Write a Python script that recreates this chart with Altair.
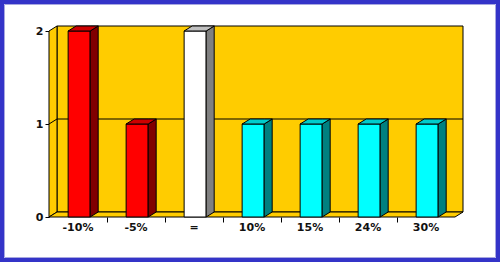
import altair as alt
import pandas as pd

# ---- data ----
categories = ["-10%", "-5%", "=", "10%", "15%", "24%", "30%"]
values = [2, 1, 2, 1, 1, 1, 1]
front_colors = ["#FF0000", "#FF0000", "#FFFFFF", "#00FFFF", "#00FFFF", "#00FFFF", "#00FFFF"]
top_colors = ["#CC0000", "#CC0000", "#C0C0C0", "#00CCCC", "#00CCCC", "#00CCCC", "#00CCCC"]
side_colors = ["#800000", "#800000", "#808080", "#008080", "#008080", "#008080", "#008080"]
y_ticks = [0, 1, 2]

# ---- layout / style ----
W, H = 406, 186
N = len(categories)
YMAX = 2
DEPTH_PX_X, DEPTH_PX_Y = 8, 5
DX = DEPTH_PX_X / (W / N)      # depth in x-data units
DY = DEPTH_PX_Y / (H / YMAX)   # depth in y-data units
BAR_START, BAR_END = 0.33, 0.71
GOLD = "#FFCC00"
FONT = "DejaVu Sans"

xs = alt.Scale(domain=[0, N], nice=False, zero=False)
ys = alt.Scale(domain=[0, YMAX], nice=False, zero=False)
x_axis = alt.Axis(values=list(range(1, N)), labels=False, domain=False, grid=False,
                  tickSize=5, tickColor="black", title=None)
y_axis = alt.Axis(values=y_ticks, labelExpr="format(datum.value, '.0f')", labelOverlap=False,
                  domain=False, grid=False, tickSize=4,
                  tickColor="black", labelPadding=2, labelFont=FONT, labelFontSize=11,
                  labelFontWeight="bold", labelColor="#111111", title=None)


def X(field="x"):
    return alt.X(f"{field}:Q", scale=xs, axis=x_axis)


def Y(field="y"):
    return alt.Y(f"{field}:Q", scale=ys, axis=y_axis)


# back wall
back = pd.DataFrame([{"x": DX, "x2": N + DX, "y": DY, "y2": YMAX + DY}])
back_layer = alt.Chart(back).mark_rect(fill=GOLD, stroke="black", strokeWidth=1).encode(
    x=X(), x2="x2:Q", y=Y(), y2="y2:Q")

# left wall
left = pd.DataFrame([{"x": 0, "y": YMAX, "y2": 0}, {"x": DX, "y": YMAX + DY, "y2": DY}])
left_layer = alt.Chart(left).mark_area(fill=GOLD, stroke="black", strokeWidth=1,
                                       interpolate="linear").encode(
    x=X(), y=Y(), y2="y2:Q")

# floor
floor = pd.DataFrame([
    {"x": 0, "y": 0, "y2": 0},
    {"x": DX, "y": DY, "y2": 0},
    {"x": N, "y": DY, "y2": 0},
    {"x": N + DX, "y": DY, "y2": DY},
])
floor_layer = alt.Chart(floor).mark_area(fill=GOLD, stroke="black", strokeWidth=1,
                                         interpolate="linear").encode(
    x=X(), y=Y(), y2="y2:Q")

# gridline at 1 (side wall + back wall)
grid_rows = []
for g in y_ticks[1:-1]:
    grid_rows += [{"x": 0, "y": g, "g": g}, {"x": DX, "y": g + DY, "g": g},
                  {"x": N + DX, "y": g + DY, "g": g}]
grid_layer = alt.Chart(pd.DataFrame(grid_rows)).mark_line(color="black", strokeWidth=1).encode(
    x=X(), y=Y(), detail="g:N")

# bars
front_rows, side_rows, top_rows = [], [], []
for i, (c, v) in enumerate(zip(categories, values)):
    x0, x1 = i + BAR_START, i + BAR_END
    front_rows.append({"cat": c, "x": x0, "x2": x1, "y": v, "y2": 0, "col": front_colors[i]})
    side_rows += [
        {"cat": c, "x": x1, "y": v, "y2": 0, "col": side_colors[i]},
        {"cat": c, "x": x1 + DX, "y": v + DY, "y2": DY, "col": side_colors[i]},
    ]
    top_rows += [
        {"cat": c, "x": x0, "y": v, "y2": v, "col": top_colors[i]},
        {"cat": c, "x": x0 + DX, "y": v + DY, "y2": v, "col": top_colors[i]},
        {"cat": c, "x": x1, "y": v + DY, "y2": v, "col": top_colors[i]},
        {"cat": c, "x": x1 + DX, "y": v + DY, "y2": v + DY, "col": top_colors[i]},
    ]

front_layer = alt.Chart(pd.DataFrame(front_rows)).mark_rect(stroke="black", strokeWidth=1).encode(
    x=X(), x2="x2:Q", y=Y(), y2="y2:Q", fill=alt.Fill("col:N", scale=None))
side_layer = alt.Chart(pd.DataFrame(side_rows)).mark_area(
    stroke="black", strokeWidth=1, interpolate="linear").encode(
    x=X(), y=Y(), y2="y2:Q", fill=alt.Fill("col:N", scale=None), detail="cat:N")
top_layer = alt.Chart(pd.DataFrame(top_rows)).mark_area(
    stroke="black", strokeWidth=1, interpolate="linear").encode(
    x=X(), y=Y(), y2="y2:Q", fill=alt.Fill("col:N", scale=None), detail="cat:N")

# category labels
labels = pd.DataFrame({"cat": categories, "x": [i + 0.5 for i in range(N)], "y": [0] * N})
label_layer = alt.Chart(labels).mark_text(
    font=FONT, fontSize=11, fontWeight="bold", color="#111111", baseline="middle",
    align="center", dy=11).encode(x=X(), y=Y(), text="cat:N")

# decorative frame
frame = alt.Chart(pd.DataFrame({"a": [0]})).mark_rect(
    fill=None, stroke="#3434C8", strokeWidth=4).encode(
    x=alt.value(-47), x2=alt.value(449), y=alt.value(-29), y2=alt.value(229))
frame_inner = alt.Chart(pd.DataFrame({"a": [0]})).mark_rect(
    fill=None, stroke="#A8A8E0", strokeWidth=1).encode(
    x=alt.value(-44.5), x2=alt.value(446.5), y=alt.value(-26.5), y2=alt.value(226.5))

chart = alt.layer(
    back_layer, left_layer, floor_layer, grid_layer,
    front_layer, side_layer, top_layer, label_layer, frame, frame_inner
).properties(
    width=W, height=H, autosize="none", background="white",
    padding={"left": 49, "top": 31, "right": 45, "bottom": 45},
).configure_view(stroke=None)

chart.save("out.html", embed_options={"renderer": "svg", "actions": False})
